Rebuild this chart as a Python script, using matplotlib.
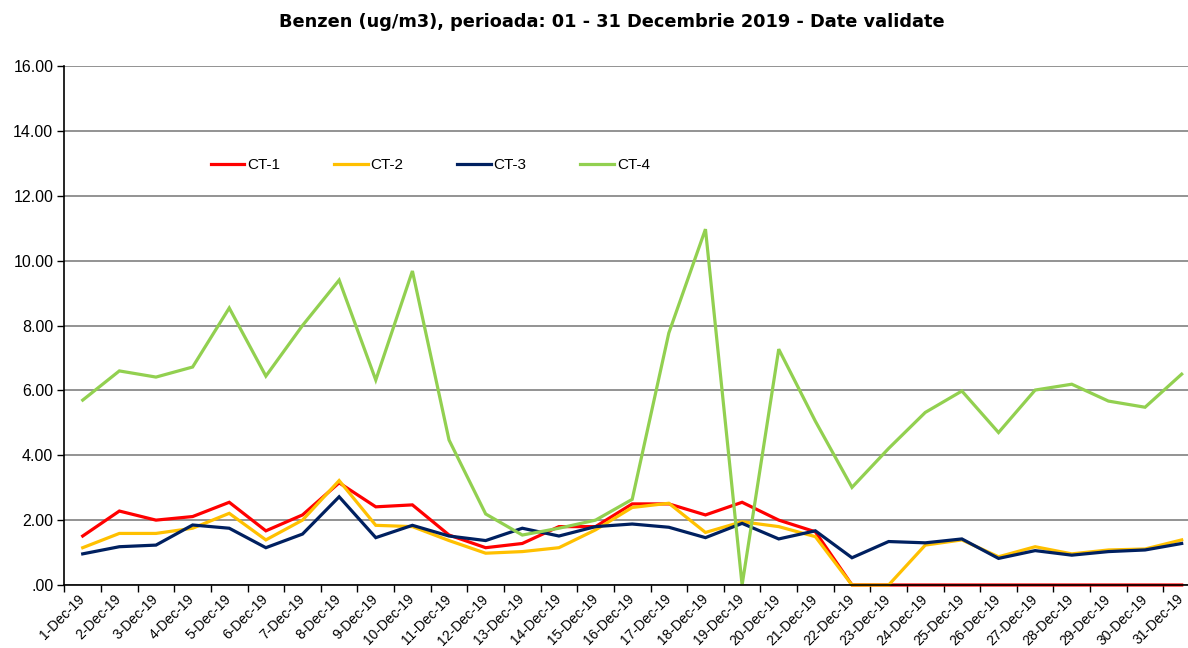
# Benzen daily averages, December 2019
import numpy as np
import matplotlib.pyplot as plt
from matplotlib.ticker import FixedLocator, FuncFormatter
from matplotlib.transforms import ScaledTranslation

# data
days = [f"{d}-Dec-19" for d in range(1, 32)]
ct1 = [1.51, 2.28, 2.00, 2.11, 2.55, 1.67, 2.16, 3.15, 2.41, 2.47, 1.54,
       1.15, 1.28, 1.80, 1.80, 2.50, 2.50, 2.16, 2.55, 2.00, 1.64,
       0.0, 0.0, 0.0, 0.0, 0.0, 0.0, 0.0, 0.0, 0.0, 0.0]
ct2 = [1.15, 1.59, 1.59, 1.75, 2.21, 1.39, 2.00, 3.22, 1.84, 1.80, 1.37,
       0.98, 1.03, 1.15, 1.70, 2.39, 2.52, 1.62, 1.95, 1.80, 1.49,
       0.0, 0.0, 1.23, 1.39, 0.87, 1.18, 0.96, 1.08, 1.11, 1.39]
ct3 = [0.96, 1.18, 1.23, 1.85, 1.75, 1.15, 1.57, 2.72, 1.46, 1.84, 1.51,
       1.37, 1.75, 1.51, 1.80, 1.88, 1.78, 1.46, 1.90, 1.42, 1.67,
       0.84, 1.34, 1.30, 1.42, 0.82, 1.06, 0.92, 1.03, 1.08, 1.28]
ct4 = [5.70, 6.60, 6.41, 6.72, 8.54, 6.44, 8.00, 9.40, 6.32, 9.68, 4.47,
       2.19, 1.54, 1.75, 2.00, 2.64, 7.77, 10.97, 0.0, 7.27, 5.05,
       3.01, 4.21, 5.32, 5.98, 4.70, 6.01, 6.19, 5.67, 5.48, 6.50]
series = {"CT-1": ct1, "CT-2": ct2, "CT-3": ct3, "CT-4": ct4}
colors = {"CT-1": "#FF0000", "CT-2": "#FFC000", "CT-3": "#002060", "CT-4": "#92D050"}

plt.rcParams["font.family"] = ["Liberation Sans", "DejaVu Sans"]

W, H = 1188, 648
fig = plt.figure(figsize=(W / 100, H / 100), dpi=100)
ax = fig.add_axes([64.4 / W, (H - 585) / H, (1200 - 64.4) / W, (585 - 66) / H])

x = np.arange(len(days))
for name, vals in series.items():
    ax.plot(x, vals, color=colors[name], lw=2.3, label=name, clip_on=False,
            solid_joinstyle="miter")

ax.set_xlim(-0.5, len(days) - 0.5)
ax.set_ylim(0, 16)
ax.set_yticks(np.arange(0, 16.1, 2))
ax.yaxis.set_major_formatter(FuncFormatter(lambda v, p: ".00" if v == 0 else f"{v:.2f}"))
ax.yaxis.grid(True, color="#808080", lw=1.2)
ax.set_axisbelow(True)

# ticks at category boundaries, labels at centers
ax.xaxis.set_major_locator(FixedLocator(np.arange(-0.5, len(days), 1)))
ax.xaxis.set_major_formatter(FuncFormatter(lambda v, p: ""))
ax.xaxis.set_minor_locator(FixedLocator(x))
ax.set_xticklabels(days, minor=True, rotation=45, ha="right", va="top",
                   rotation_mode="anchor", fontsize=10)
ax.tick_params(axis="x", which="minor", length=0, pad=5)
ax.tick_params(axis="x", which="major", length=5, width=1, direction="out")
ax.tick_params(axis="y", length=5, width=1, labelsize=11.5, pad=3)
shift = ScaledTranslation(-5 / 100, 0, fig.dpi_scale_trans)
for lab in ax.get_xticklabels(minor=True):
    lab.set_transform(lab.get_transform() + shift)

for s in ["top", "right"]:
    ax.spines[s].set_visible(False)
for s in ["left", "bottom"]:
    ax.spines[s].set_color("black")
    ax.spines[s].set_linewidth(1.2)

ax.legend(loc="center left", bbox_to_anchor=(197 / W, (H - 165) / H),
          bbox_transform=fig.transFigure, ncol=4, frameon=False, fontsize=11,
          handlelength=2.2, handletextpad=0.2, columnspacing=3.5)

fig.text(612 / W, (H - 22) / H, "Benzen (ug/m3), perioada: 01 - 31 Decembrie 2019 - Date validate",
         ha="center", va="center", fontsize=12.8, fontweight="bold", family="DejaVu Sans")

fig.savefig("out.png", dpi=100)
